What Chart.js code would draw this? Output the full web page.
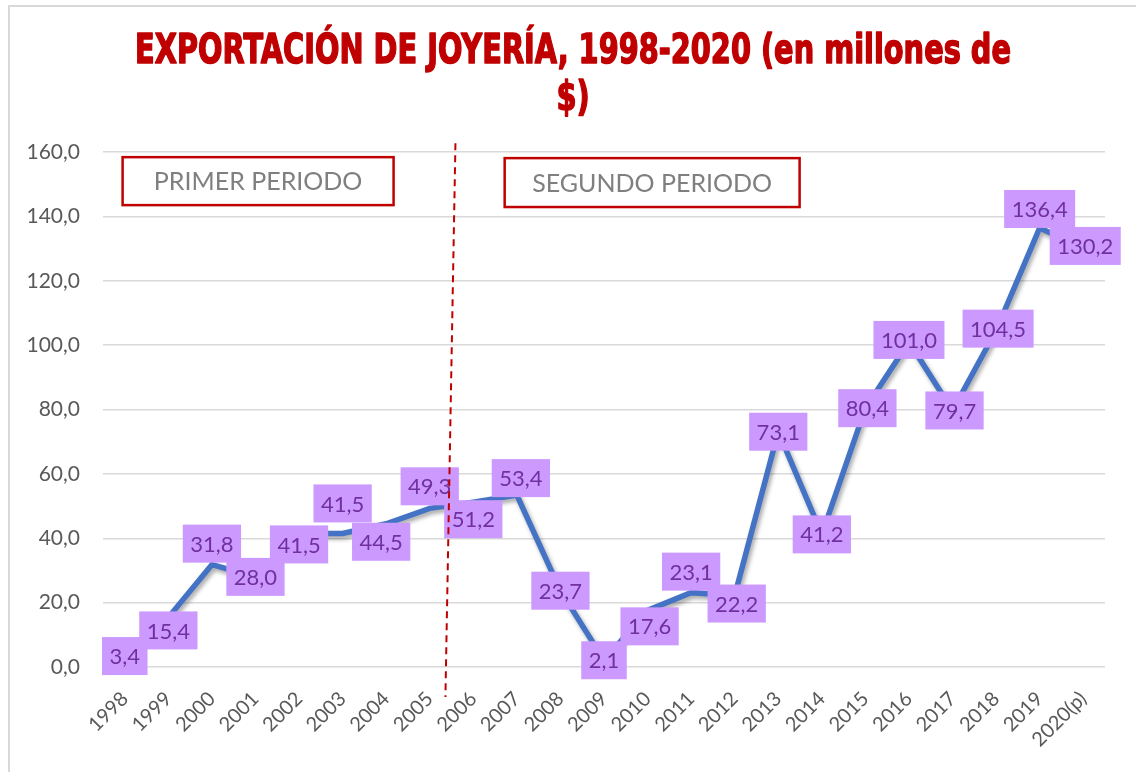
<!DOCTYPE html>
<html>
<head>
<meta charset="utf-8">
<script src="https://cdn.jsdelivr.net/npm/chart.js@4.4.0/dist/chart.umd.min.js"></script>
<style>
    html, body { margin: 0; padding: 0; background: #fff; }
    #contenedor { position: relative; width: 1136px; height: 772px; overflow: hidden; }
    #marco { position: absolute; left: 8px; top: 5px; width: 1150px; height: 790px; border: 2px solid #d9d9d9; box-sizing: border-box; }
    canvas { position: absolute; left: 0; top: 0; }
</style>
</head>
<body>
<div id="contenedor">
    <div id="marco"></div>
    <canvas id="exportChart" width="1136" height="772"></canvas>
</div>
<script>
// datos del gráfico
var anios = ['1998', '1999', '2000', '2001', '2002', '2003', '2004', '2005', '2006', '2007', '2008',
    '2009', '2010', '2011', '2012', '2013', '2014', '2015', '2016', '2017', '2018', '2019', '2020(p)'];
var exportaciones = [3.4, 15.4, 31.8, 28.0, 41.5, 41.5, 44.5, 49.3, 51.2, 53.4, 23.7,
    2.1, 17.6, 23.1, 22.2, 73.1, 41.2, 80.4, 101.0, 79.7, 104.5, 136.4, 130.2];
var ticksY = [0, 20, 40, 60, 80, 100, 120, 140, 160];
var tituloLineas = ['EXPORTACIÓN DE JOYERÍA, 1998-2020 (en millones de', '$)'];
var periodos = ['PRIMER PERIODO', 'SEGUNDO PERIODO'];

// desplazamiento de las etiquetas respecto al punto (px)
var etiquetaDx = [0, 0, 0, 0, 0, 0, -5, 0, 0, 4, 0, 0, 2, 0, 2, 0, 0, 2, 0, 2, 2, 0, 2];
var etiquetaDy = [0, 13, -21, 0, 11, -30, 18, -22, 17, -17, 0, 0, 16, -21, 8, 0, 0, 0, -2, 0, -2, -19, -2];

function formato(v) {
    return v.toFixed(1).replace('.', ',');
}

// título en letra condensada (se comprime la fuente en horizontal)
var titulo = {
    id: 'titulo',
    afterDraw: function(chart) {
        var ctx = chart.ctx;
        ctx.save();
        ctx.font = 'bold 40px "DejaVu Sans"';
        ctx.fillStyle = '#c00000';
        ctx.strokeStyle = '#c00000';
        ctx.lineWidth = 1.6;
        ctx.lineJoin = 'round';
        ctx.textAlign = 'center';
        ctx.textBaseline = 'alphabetic';
        var sx = 876 / ctx.measureText(tituloLineas[0]).width;
        tituloLineas.forEach(function(linea, i) {
            ctx.save();
            ctx.translate(573, 63 + i * 47);
            ctx.scale(sx, 1);
            ctx.fillText(linea, 0, 0);
            ctx.strokeText(linea, 0, 0);
            ctx.restore();
        });
        ctx.restore();
    }
};

// sombra de la línea
var sombraLinea = {
    id: 'sombraLinea',
    beforeDatasetDraw: function(chart) {
        var ctx = chart.ctx;
        ctx.save();
        ctx.shadowColor = 'rgba(0,0,0,0.35)';
        ctx.shadowBlur = 4;
        ctx.shadowOffsetX = 2;
        ctx.shadowOffsetY = 3;
    },
    afterDatasetDraw: function(chart) {
        chart.ctx.restore();
    }
};

// etiquetas de datos con fondo lila
var etiquetas = {
    id: 'etiquetas',
    afterDatasetsDraw: function(chart) {
        var ctx = chart.ctx;
        var meta = chart.getDatasetMeta(0);
        ctx.save();
        ctx.font = '22px Lato';
        ctx.textAlign = 'center';
        ctx.textBaseline = 'middle';
        meta.data.forEach(function(p, i) {
            var txt = formato(exportaciones[i]);
            var w = ctx.measureText(txt).width + 15;
            var h = 38;
            var cx = p.x + etiquetaDx[i];
            var cy = p.y + etiquetaDy[i];
            ctx.fillStyle = '#cc99ff';
            ctx.fillRect(cx - w / 2, cy - h / 2, w, h);
            ctx.fillStyle = '#7030a0';
            ctx.fillText(txt, cx, cy + 1);
        });
        ctx.restore();
    }
};

// cuadros de periodo y línea divisoria
var periodosPlugin = {
    id: 'periodos',
    afterDraw: function(chart) {
        var ctx = chart.ctx;
        var x = chart.scales.x, y = chart.scales.y;
        var cajas = [
            { texto: periodos[0], x0: -0.05, x1: 6.17, y0: 158.4, y1: 143.5 },
            { texto: periodos[1], x0: 8.72, x1: 15.49, y0: 158.1, y1: 142.9 }
        ];
        ctx.save();
        cajas.forEach(function(c) {
            var l = x.getPixelForValue(c.x0), r = x.getPixelForValue(c.x1);
            var t = y.getPixelForValue(c.y0), b = y.getPixelForValue(c.y1);
            ctx.fillStyle = '#ffffff';
            ctx.fillRect(l, t, r - l, b - t);
            ctx.strokeStyle = '#c00000';
            ctx.lineWidth = 2.5;
            ctx.strokeRect(l, t, r - l, b - t);
            ctx.fillStyle = '#7f7f7f';
            ctx.font = '25px Lato';
            ctx.textAlign = 'center';
            ctx.textBaseline = 'middle';
            ctx.fillText(c.texto, (l + r) / 2, (t + b) / 2 + 1);
        });
        // línea punteada entre periodos
        ctx.strokeStyle = '#c00000';
        ctx.lineWidth = 2;
        ctx.setLineDash([7, 5]);
        ctx.beginPath();
        ctx.moveTo(x.getPixelForValue(7.59), y.getPixelForValue(162.7));
        ctx.lineTo(x.getPixelForValue(7.36), y.getPixelForValue(-9.3));
        ctx.stroke();
        ctx.restore();
    }
};

var exportChart = new Chart(document.getElementById('exportChart'), {
    type: 'line',
    data: {
        labels: anios,
        datasets: [{
            label: 'Exportación',
            data: exportaciones,
            borderColor: '#4472c4',
            borderWidth: 5.5,
            pointRadius: 0,
            pointHoverRadius: 0,
            tension: 0,
            fill: false
        }]
    },
    options: {
        responsive: false,
        animation: false,
        layout: {
            padding: { left: 0, right: 31, top: 152, bottom: 0 }
        },
        plugins: {
            legend: { display: false },
            tooltip: { enabled: false },
            title: { display: false }
        },
        scales: {
            x: {
                offset: true,
                grid: { display: false },
                border: { display: false },
                ticks: {
                    color: '#595959',
                    font: { family: 'Lato', size: 20 },
                    minRotation: 45,
                    maxRotation: 45,
                    autoSkip: false,
                    padding: 12
                },
                afterFit: function(s) { s.height = 105; }
            },
            y: {
                min: 0,
                max: 160,
                afterBuildTicks: function(s) {
                    s.ticks = ticksY.map(function(v) { return { value: v }; });
                },
                grid: { color: '#d9d9d9', lineWidth: 1.5, drawTicks: false },
                border: { display: false },
                ticks: {
                    color: '#595959',
                    font: { family: 'Lato', size: 21 },
                    padding: 23,
                    callback: function(v) { return formato(v); }
                },
                afterFit: function(s) { s.width = 103; }
            }
        }
    },
    plugins: [sombraLinea, etiquetas, periodosPlugin, titulo]
});
</script>
</body>
</html>
